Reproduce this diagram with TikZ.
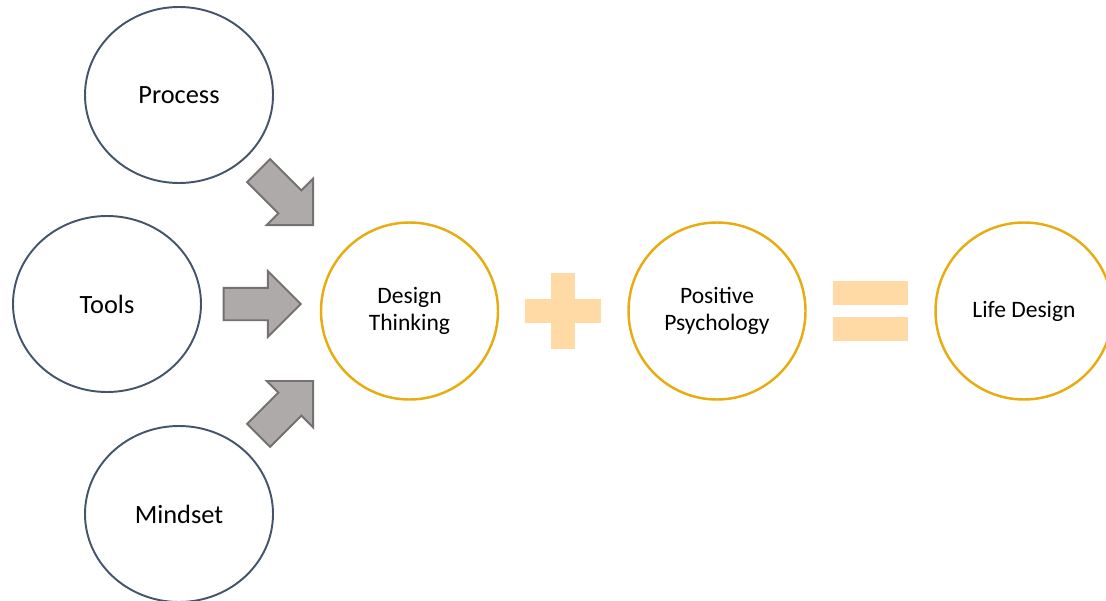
\documentclass[tikz,border=0pt]{standalone}
\usepackage{fontspec}
\setmainfont{Carlito}
\usetikzlibrary{shapes.geometric, shapes.arrows, positioning, calc}

\definecolor{slate}{HTML}{44546A}
\definecolor{gold}{HTML}{E6AC10}
\definecolor{peach}{HTML}{FFDAA5}
\definecolor{arrowfill}{HTML}{AEAAAA}
\definecolor{arrowline}{HTML}{767171}

\tikzset{
  part/.style={ellipse, draw=slate, line width=1.1pt, minimum width=3.76cm, minimum height=3.52cm,
    font=\fontsize{15}{18}\selectfont},
  whole/.style={circle, draw=gold, line width=1.4pt, minimum size=3.54cm, align=center,
    font=\fontsize{13.4}{15}\selectfont},
  feed/.style={single arrow, draw=arrowline, fill=arrowfill, line width=1.1pt, inner sep=0pt,
    text height=0.61cm, text depth=0pt, minimum height=1.54cm, minimum width=1.27cm,
    single arrow head extend=0.33cm, single arrow tip angle=90},
}

\begin{document}
\begin{tikzpicture}
  \useasboundingbox (0,0) rectangle (22.12,12);

  % three ingredients on the left
  \node[part] (process) at (3.58,10.10) {Process};
  \node[part] (tools)   at (2.14,5.92)  {Tools};
  \node[part] (mindset) at (3.58,1.72)  {Mindset};

  % the equation
  \node[whole] (dt) at (8.19,5.78)  {Design\\Thinking};
  \node[whole] (pp) at (14.34,5.78) {Positive\\Psychology};
  \node[whole] (ld) at (20.48,5.78) {Life Design};

  % block arrows into design thinking
  \node[feed, rotate=-45, anchor=tip] (fromprocess) at (6.28,7.48) {};
  \node[feed, anchor=tip]             (fromtools)   at (6.04,5.92) {};
  \node[feed, rotate=45, anchor=tip]  (frommindset) at (6.28,4.40) {};

  % plus and equals signs
  \path (dt) -- (pp) coordinate[midway] (plus);
  \path (pp) -- (ld) coordinate[midway] (equals);
  \fill[peach] ($(plus)+(-0.76,-0.243)$) rectangle ($(plus)+(0.76,0.243)$);
  \fill[peach] ($(plus)+(-0.243,-0.76)$) rectangle ($(plus)+(0.243,0.76)$);
  \fill[peach] ($(equals)+(-0.756,0.12)$) rectangle ($(equals)+(0.756,0.60)$);
  \fill[peach] ($(equals)+(-0.756,-0.60)$) rectangle ($(equals)+(0.756,-0.12)$);
\end{tikzpicture}
\end{document}
